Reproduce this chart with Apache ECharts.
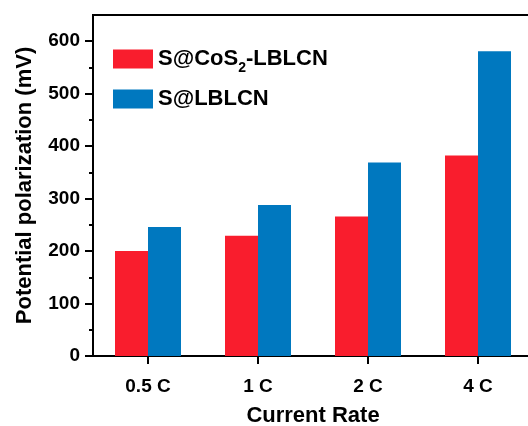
<!DOCTYPE html>
<html>
<head>
<meta charset="utf-8">
<script src="https://cdn.jsdelivr.net/npm/echarts@6/dist/echarts.min.js"></script>
<style>
  html, body { margin: 0; padding: 0; background: #fff; }
  #chart { width: 528px; height: 426px; }
</style>
</head>
<body>
<div id="chart"></div>
<script>
// Current rates on the x axis
const rates = ['0.5 C', '1 C', '2 C', '4 C'];
// Potential polarization (mV) for each electrode
const cosLblcn = [200, 229, 266, 382];
const lblcn = [246, 288, 369, 581];
// y-axis ticks
const yMajorTicks = [0, 100, 200, 300, 400, 500, 600];
const yMinorTicks = [50, 150, 250, 350, 450, 550];
const yMax = 650;

const FONT = '"Liberation Sans", Arial, sans-serif';
const RED = '#F91D2D';
const BLUE = '#0078BF';

const chart = echarts.init(document.getElementById('chart'), null, { renderer: 'canvas' });

chart.setOption({
  animation: false,
  backgroundColor: '#fff',
  grid: {
    left: 93, top: 15, width: 440, bottom: 70,
    outerBoundsMode: 'none',
    containLabel: false,
    show: true, borderColor: '#000', borderWidth: 2, backgroundColor: 'transparent'
  },
  legend: {
    orient: 'vertical',
    left: 108, top: 42,
    itemWidth: 40, itemHeight: 19, itemGap: 12,
    icon: 'rect',
    data: ['S@CoS2-LBLCN', 'S@LBLCN'],
    formatter: function (name) {
      return name === 'S@CoS2-LBLCN' ? 'S@CoS{sub|2}-LBLCN' : name;
    },
    textStyle: {
      fontFamily: FONT, fontSize: 22, fontWeight: 'bold', color: '#000', lineHeight: 24,
      rich: {
        // subscript: pushed below the baseline without growing the line
        sub: {
          fontFamily: FONT, fontSize: 14, fontWeight: 'bold', color: '#000',
          lineHeight: 4, verticalAlign: 'top', padding: [14, 0, 0, 0]
        }
      }
    }
  },
  xAxis: {
    type: 'category',
    data: rates,
    name: 'Current Rate',
    nameLocation: 'middle',
    nameGap: 49,
    nameTextStyle: { fontFamily: FONT, fontSize: 22, fontWeight: 'bold', color: '#000' },
    axisLine: { show: true, lineStyle: { color: '#000', width: 2 } },
    axisTick: { show: true, alignWithLabel: true, length: 8, lineStyle: { color: '#000', width: 2 } },
    axisLabel: { margin: 21, fontFamily: FONT, fontSize: 19, fontWeight: 'bold', color: '#000' },
    splitLine: { show: false }
  },
  yAxis: [
    {
      type: 'value',
      min: 0, max: yMax,
      name: 'Potential polarization (mV)',
      nameLocation: 'middle',
      nameGap: 57,
      nameTextStyle: { fontFamily: FONT, fontSize: 22, fontWeight: 'bold', color: '#000' },
      axisLine: { show: true, lineStyle: { color: '#000', width: 2 } },
      axisTick: { show: true, length: 8, customValues: yMajorTicks, lineStyle: { color: '#000', width: 2 } },
      axisLabel: { margin: 13, customValues: yMajorTicks, fontFamily: FONT, fontSize: 19, fontWeight: 'bold', color: '#000' },
      splitLine: { show: false }
    },
    {
      // minor ticks on the left axis
      type: 'value',
      position: 'left',
      min: 0, max: yMax,
      axisLine: { show: false },
      axisTick: { show: true, length: 4, customValues: yMinorTicks, lineStyle: { color: '#000', width: 2 } },
      axisLabel: { show: false },
      splitLine: { show: false }
    }
  ],
  series: [
    {
      name: 'S@CoS2-LBLCN',
      type: 'bar',
      data: cosLblcn,
      barWidth: 33,
      barGap: '0%',
      itemStyle: { color: RED }
    },
    {
      name: 'S@LBLCN',
      type: 'bar',
      data: lblcn,
      barWidth: 33,
      barGap: '0%',
      itemStyle: { color: BLUE }
    }
  ]
});
</script>
</body>
</html>
